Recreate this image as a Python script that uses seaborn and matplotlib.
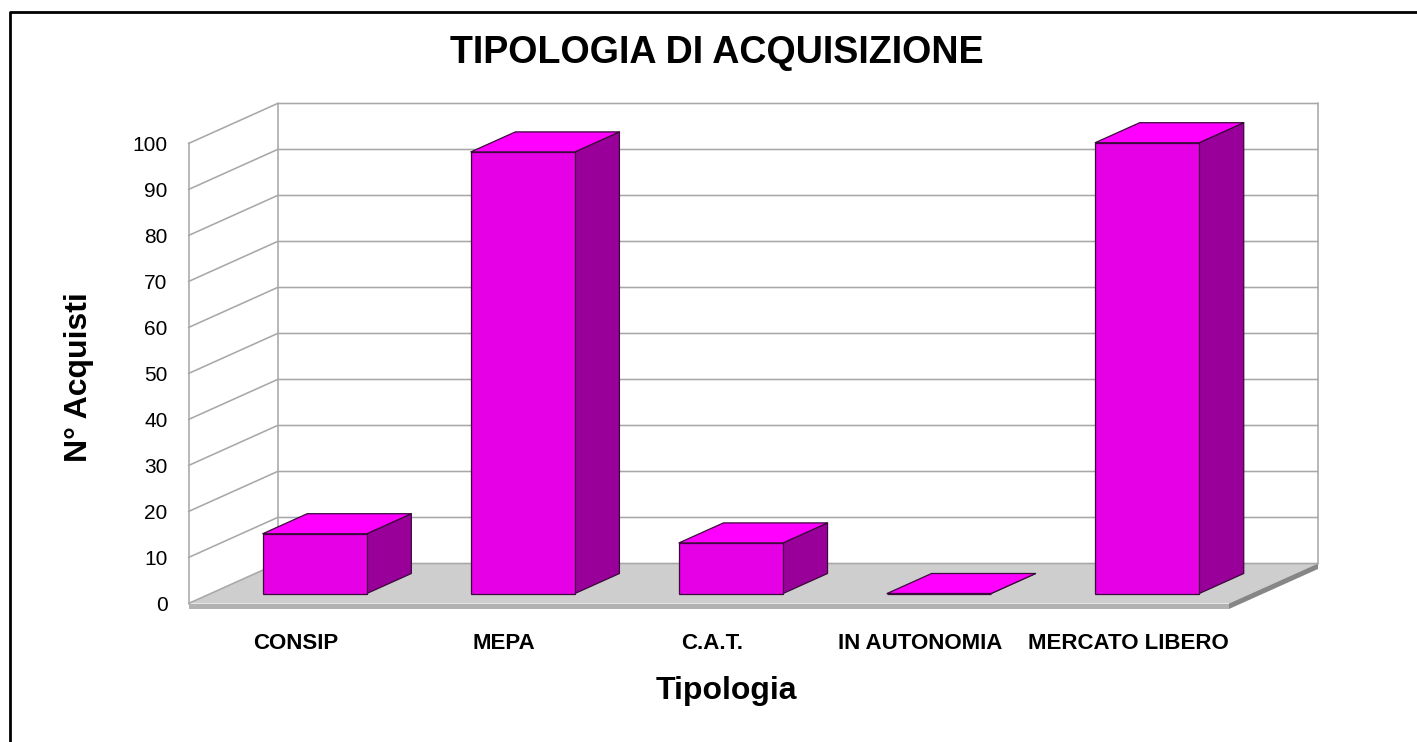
import matplotlib
matplotlib.use("Agg")
import matplotlib.pyplot as plt
from matplotlib.lines import Line2D
from matplotlib.patches import Polygon
from matplotlib.transforms import ScaledTranslation
import pandas as pd
import seaborn as sns

categories = ["CONSIP", "MEPA", "C.A.T.", "IN AUTONOMIA", "MERCATO LIBERO"]
values = [13, 96, 11, 0, 98]
y_ticks = [0, 10, 20, 30, 40, 50, 60, 70, 80, 90, 100]
title = "TIPOLOGIA DI ACQUISIZIONE"
x_title = "Tipologia"
y_title = "N° Acquisti"

W, H = 1417, 742
FRONT, TOP, SIDE = "#E600E6", "#FF00FF", "#990099"
EDGE = "#3a0a3a"
GRID = "#a8a8a8"

sns.set_theme(style="white")
plt.rcParams["font.family"] = ["Liberation Sans", "DejaVu Sans"]

fig = plt.figure(figsize=(W / 100, H / 100), dpi=100, facecolor="white")
L, R, T, B = 188.5, 1229, 143.5, 603.5
ax = fig.add_axes([L / W, 1 - B / H, (R - L) / W, (B - T) / H])
df = pd.DataFrame({"tipologia": categories, "acquisti": values})
sns.barplot(data=df, x="tipologia", y="acquisti", color=FRONT, saturation=1,
            width=0.5, ax=ax, zorder=5, edgecolor=EDGE, linewidth=0.9)
ax.set_xlim(-0.5, len(categories) - 0.5)
ax.set_ylim(0, 100)
ax.set_yticks(y_ticks)
for s in ax.spines.values():
    s.set_visible(False)
ax.tick_params(axis="both", length=0)
ax.tick_params(axis="y", labelsize=15, pad=15, colors="black")
ax.tick_params(axis="x", labelsize=16, pad=21.5, colors="black")
ax.patch.set_alpha(0)

shift = ScaledTranslation(3.5 / 100, 0, fig.dpi_scale_trans)
for lab in ax.get_xticklabels():
    lab.set_fontweight("bold")
    lab.set_transform(lab.get_transform() + shift)

# Projection of the depth axis in data units
DX = 89 / ((R - L) / len(categories))
DY = 40 / ((B - T) / 100)
x0, x1 = -0.5, len(categories) - 0.5
ymax = y_ticks[-1]
TH = 5.5 / ((B - T) / 100)


def poly(pts, fc, ec="none", lw=0, z=1):
    ax.add_patch(Polygon(pts, closed=True, facecolor=fc, edgecolor=ec,
                         linewidth=lw, zorder=z, clip_on=False, joinstyle="round"))


def line(xs, ys, z=2):
    ax.add_line(Line2D(xs, ys, color=GRID, lw=1.15, zorder=z, clip_on=False))


# Floor with its thickness
poly([(x0, 0), (x0 + DX, DY), (x1 + DX, DY), (x1, 0)], "#cecece")
poly([(x0, 0), (x1, 0), (x1, -TH), (x0, -TH)], "#b2b2b2")
poly([(x1, 0), (x1 + DX, DY), (x1 + DX, DY - TH), (x1, -TH)], "#868686")

# Walls
for v in y_ticks[1:]:
    line([x0, x0 + DX, x1 + DX], [v, v + DY, v + DY])
line([x0, x0 + DX, x1 + DX], [0, DY, DY])
line([x0, x0], [0, ymax])
line([x0 + DX, x0 + DX], [DY, ymax + DY])
line([x1 + DX, x1 + DX], [DY, ymax + DY])

# Bars: the seaborn patches stand halfway down the floor, with side and top faces
f = 0.25
depth = 0.5
for bar in ax.patches[:len(categories)]:
    bar.set_clip_on(False)
    bar.set_x(bar.get_x() + f * DX)
    bar.set_y(f * DY)
    xa, xb = bar.get_x(), bar.get_x() + bar.get_width()
    ya, yb = f * DY, f * DY + bar.get_height()
    ddx, ddy = depth * DX, depth * DY
    poly([(xb, ya), (xb + ddx, ya + ddy), (xb + ddx, yb + ddy), (xb, yb)],
         SIDE, EDGE, 0.9, 4)
    poly([(xa, yb), (xb, yb), (xb + ddx, yb + ddy), (xa + ddx, yb + ddy)],
         TOP, EDGE, 0.9, 4)

ax.set_xlabel(x_title, fontsize=23, fontweight="bold", color="black")
ax.set_ylabel(y_title, fontsize=23, fontweight="bold", color="black")
ax.xaxis.set_label_coords((726 - L) / (R - L), (B - 691) / (B - T))
ax.yaxis.set_label_coords((79 - L) / (R - L), (B - 377) / (B - T))
for lb in (ax.xaxis.label, ax.yaxis.label):
    lb.set_verticalalignment("center")

fig.text(717 / W, 1 - 53 / H, title, fontsize=27.1, fontweight="bold",
         ha="center", va="center", color="black")

# Chart-area border, left and top only
fig.add_artist(Line2D([10 / W, 10 / W, 1], [0, 1 - 12 / H, 1 - 12 / H],
                      color="black", lw=2, transform=fig.transFigure))

fig.savefig("out.png", dpi=100, facecolor="white")
